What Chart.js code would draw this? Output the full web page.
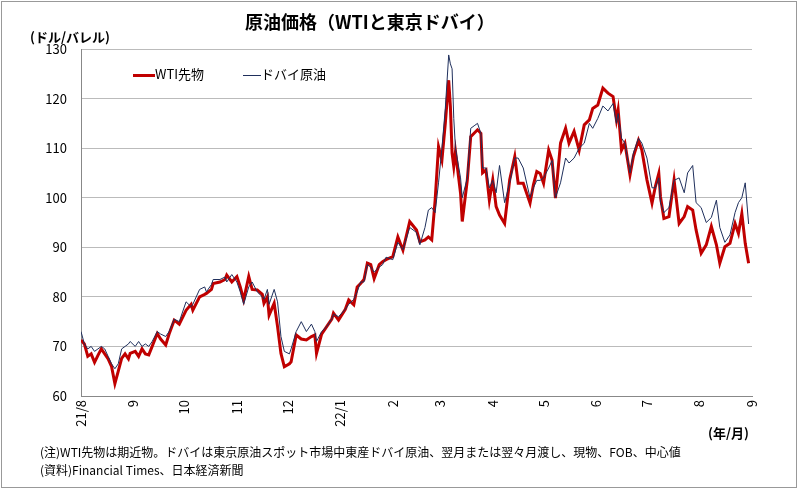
<!DOCTYPE html>
<html><head><meta charset="utf-8">
<script src="https://cdn.jsdelivr.net/npm/chart.js@4"></script>
<style>
body{margin:0;background:#fff;font-family:"Noto Sans CJK JP",sans-serif;}
#wrap{position:relative;width:800px;height:491px;}
#frame{position:absolute;left:1px;top:1px;width:796px;height:487px;border:1px solid #999;box-sizing:border-box;pointer-events:none}
canvas{position:absolute;left:0;top:0}
.t{position:absolute;white-space:nowrap;color:#000}
</style></head><body>
<div id="wrap">
<canvas id="c" width="800" height="491"></canvas>
<div id="frame"></div>
<div class="t" style="left:245px;top:8px;font-size:18px;font-weight:bold">原油価格（WTIと東京ドバイ）</div>
<div class="t" style="left:30px;top:27px;font-size:13px;font-weight:bold">(ドル/バレル)</div>
<div class="t" style="left:133px;top:64px;font-size:13px"><span style="display:inline-block;width:22px;height:3px;background:#c00000;vertical-align:middle"></span>WTI先物</div>
<div class="t" style="left:243px;top:64px;font-size:13px"><span style="display:inline-block;width:18px;height:1px;background:#1f2f5c;vertical-align:middle"></span>ドバイ原油</div>
<div class="t" style="left:708px;top:423px;font-size:13px;font-weight:bold">(年/月)</div>
<div class="t" style="left:40px;top:443px;font-size:12px">(注)WTI先物は期近物。ドバイは東京原油スポット市場中東産ドバイ原油、翌月または翌々月渡し、現物、FOB、中心値</div>
<div class="t" style="left:40px;top:461px;font-size:12px">(資料)Financial Times、日本経済新聞</div>
</div>
<script>
const days=[0,2,4,6,8,10,12,14,16,18,20,22,24,26,28,29,32,34,36,38,40,42,45,47,50,52,55,58,62,65,66,70,73,74,77,78,82,85,86,89,92,94,96,99,101,104,107,108,110,111,114,116,118,120,123,124,127,130,133,136,138,139,142,145,148,149,152,156,158,161,163,165,167,169,171,173,176,178,180,184,187,190,194,198,200,203,205,207,209,211,213,215,217,218,219,220,221,224,225,228,230,232,234,236,237,239,241,243,245,247,250,253,256,258,261,265,267,269,271,273,276,278,280,283,286,288,291,294,297,300,302,305,308,311,314,316,317,319,321,324,326,329,331,334,337,339,341,342,344,347,350,353,356,358,361,363,366,369,372,375,377,380,383,386,388,390,392,394];
const wti=[71.3,70.5,68.0,68.5,66.8,68.2,69.5,68.5,67.5,66.0,62.5,65.0,67.6,68.5,67.5,68.6,69.0,68.0,69.5,68.5,68.3,70.0,72.6,71.5,70.3,72.5,75.3,74.5,77.3,78.5,77.3,80.0,80.5,80.7,81.5,82.7,83.0,83.5,84.4,83.0,84.1,82.0,79.4,84.1,81.5,81.4,80.5,78.7,80.0,76.3,78.7,74.0,68.6,65.9,66.5,66.9,72.3,71.5,71.3,72.0,72.3,68.6,72.5,74.0,75.5,76.7,75.3,77.5,79.4,78.4,82.0,82.7,83.5,86.8,86.5,83.7,86.5,87.1,87.5,88.1,92.1,89.4,95.2,93.5,91.1,91.5,92.1,91.5,99.5,110.3,107.6,115.0,123.7,118.4,109.0,106.3,109.3,100.9,95.2,103.6,112.3,113.0,113.7,113.0,105.0,105.6,99.5,103.6,98.2,96.5,94.8,103.6,108.3,102.9,102.9,98.9,102.6,105.3,104.9,102.9,109.6,107.6,99.9,111.0,114.0,111.0,113.4,109.6,114.7,115.7,118.0,118.7,122.1,121.1,120.4,115.7,117.7,109.6,111.0,104.6,108.3,111.6,109.6,103.6,98.9,102.3,104.9,100.2,95.8,96.2,103.6,94.8,96.2,98.2,97.5,93.5,88.8,90.5,94.2,90.5,86.8,90.1,90.8,94.8,92.8,96.8,90.8,86.8];
const dubai=[73.0,70.5,69.5,70.0,69.0,69.5,70.0,69.5,68.0,66.5,65.5,66.5,69.5,70.0,70.5,71.0,70.0,71.0,70.0,70.5,70.0,71.0,73.0,72.5,72.0,73.0,75.5,75.0,79.0,78.0,78.5,81.5,82.0,81.0,82.5,83.5,83.5,84.0,83.0,84.5,83.0,81.0,78.5,82.0,83.0,81.0,80.0,79.5,81.5,78.5,81.5,79.0,72.0,69.0,68.5,69.5,73.0,75.0,73.0,74.5,73.0,71.0,73.0,74.0,75.5,76.5,76.0,77.5,78.5,79.5,81.0,83.0,83.0,86.5,86.0,85.0,86.0,86.5,88.0,87.5,91.0,89.5,94.0,93.0,90.5,94.0,97.5,98.0,97.0,103,110,118,128.8,127,126,116,110,104,100,104,114,114.5,115,113,106,106,102,103.5,101,106.5,99,103,108,108,106,100,102,103.5,103.5,104,106,107.5,100,103,108,107,108,110,111,115,114,116,118.5,117.5,119,115,117,112,111,105,109,112,111,108,102,102,104,99,97,98,103.5,104,101,105,106.5,99,98,95,96,99.5,94,91,92.5,97,99,100,103,94.7];
const monthDays=[0,31,61,92,122,153,184,212,243,273,304,334,365,396];
const monthLabels=['21/8','9','10','11','12','22/1','2','3','4','5','6','7','8','9'];
const yTicks=[60,70,80,90,100,110,120,130];
const pts=a=>days.map((d,i)=>({x:d,y:a[i]}));
new Chart(document.getElementById('c'),{
type:'line',
data:{datasets:[
{label:'ドバイ原油',data:pts(dubai),borderColor:'#1f2f5c',borderWidth:1,pointRadius:0,tension:0},
{label:'WTI先物',data:pts(wti),borderColor:'#c00000',borderWidth:3,pointRadius:0,tension:0}
]},
options:{responsive:false,animation:false,
layout:{padding:{top:49,right:48,left:0,bottom:0}},
plugins:{legend:{display:false},tooltip:{enabled:false}},
scales:{
x:{type:'linear',min:0,max:396,
afterBuildTicks:s=>{s.ticks=monthDays.map(v=>({value:v}));},
afterFit:s=>{s.height=95;},
grid:{display:false,drawTicks:false},border:{color:'#888'},
ticks:{autoSkip:false,minRotation:90,maxRotation:90,padding:4,color:'#000',font:{size:13,family:'Noto Sans CJK JP'},
callback:(v)=>{const i=monthDays.indexOf(v);return i>=0?monthLabels[i]:'';}}},
y:{min:60,max:130,
afterBuildTicks:s=>{s.ticks=yTicks.map(v=>({value:v}));},
afterFit:s=>{s.width=81;},
grid:{color:'#bbb',drawTicks:false},border:{color:'#888'},
ticks:{padding:14,color:'#000',font:{size:13,family:'Noto Sans CJK JP'}}}
}}});
</script></body></html>
